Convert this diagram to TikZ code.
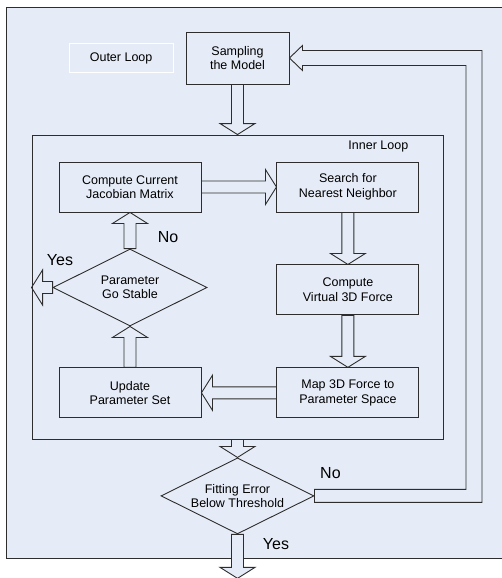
\documentclass[tikz,border=0pt]{standalone}
\usepackage{fontspec}
\setmainfont{Liberation Sans}
\usepackage{tikz}
\usetikzlibrary{shapes.geometric, positioning, calc}
\definecolor{loopbg}{RGB}{230,236,247}
\definecolor{loopline}{RGB}{45,45,45}
\pgfdeclarelayer{back}
\pgfdeclarelayer{conn}
\pgfsetlayers{back,conn,main}
\tikzset{
  box/.style={rectangle, minimum width=142pt, minimum height=50pt, inner sep=0pt, align=center, draw=loopline, line width=0.9pt, font=\fontsize{12.5}{14.5}\selectfont},
  dec/.style={diamond, shape aspect=2, minimum width=153pt, minimum height=76pt, inner sep=0pt, align=center, draw=loopline, line width=0.9pt, font=\fontsize{12.5}{14.5}\selectfont},
  loopbox/.style={rectangle, minimum width=411pt, minimum height=304pt, draw=loopline, line width=0.9pt},
  lbl/.style={rectangle, minimum width=104pt, minimum height=29pt, draw=white, line width=0.9pt, font=\fontsize{12.5}{14.5}\selectfont},
  yn/.style={inner sep=0pt, font=\fontsize{16}{19}\selectfont},
  blk/.style={draw=loopline, fill=loopbg, line width=0.9pt, line join=miter, to path={
    ($(\tikztostart)!6pt!90:(\tikztotarget)$)
    -- ($(\tikztotarget)!11pt!(\tikztostart)!6pt!90:(\tikztotarget)$)
    -- ($(\tikztotarget)!11pt!(\tikztostart)!17.5pt!90:(\tikztotarget)$)
    -- (\tikztotarget)
    -- ($(\tikztotarget)!11pt!(\tikztostart)!17.5pt!-90:(\tikztotarget)$)
    -- ($(\tikztotarget)!11pt!(\tikztostart)!6pt!-90:(\tikztotarget)$)
    -- ($(\tikztostart)!6pt!-90:(\tikztotarget)$) -- cycle}}
}

\begin{document}
\begin{tikzpicture}[x=1pt, y=-1pt]
  \useasboundingbox (0,0) rectangle (502,578);
  \begin{pgfonlayer}{back}
    \fill [white] (0,0) rectangle (502,578);
    \filldraw [fill=loopbg, draw=loopline, line width=0.9pt] (6,7) rectangle (512,558);
  \end{pgfonlayer}
  % outer loop
  \node (samp) [box, minimum width=103pt, minimum height=52pt] at (237.5,58) {Sampling\\the Model};
  \node (outl) [lbl, left=12pt of samp] {Outer Loop};
  % inner loop
  \node (inner) [loopbox] at (237.5,287) {};
  \node (innerlbl) [anchor=north east, inner sep=0pt, font=\fontsize{12.5}{14.5}\selectfont] at ([xshift=-35pt, yshift=-6pt]inner.north east) {Inner Loop};
  \node (jac) [box] at (130,187) {Compute Current\\Jacobian Matrix};
  \node (srch) [box, right=75pt of jac] {Search for\\Nearest Neighbor};
  \node (vf) [box, below=52pt of srch] {Compute\\Virtual 3D Force};
  \node (map) [box, below=52pt of vf] {Map 3D Force to\\Parameter Space};
  \node (upd) [box, left=75pt of map] {Update\\Parameter Set};
  \node (stab) [dec, minimum width=154pt, minimum height=77pt] at (130,287.5) {Parameter\\Go Stable};
  \coordinate (yout) at (inner.west |- stab);
  \node (no1) [yn] at ([xshift=38pt, yshift=11.5pt]stab.north) {No};
  \node (yes1) [yn] at ([xshift=7.5pt, yshift=27.5pt]stab.west) {Yes};
  % check
  \node (fit) [dec, below=18pt of inner] {Fitting Error\\Below Threshold};
  \coordinate [below=44pt of fit] (fin);
  \coordinate (fbx) at (474,300);
  \node (no2) [yn] at ([xshift=16pt, yshift=23pt]fit.east) {No};
  \node (yes2) [yn] at ([xshift=38.5pt, yshift=-10pt]fit.south) {Yes};
  \begin{pgfonlayer}{conn}
    \draw [blk] (samp.south) to (inner.north);
    \draw [blk] (jac.east) to (srch.west);
    \draw [blk] (srch.south) to (vf.north);
    \draw [blk] (vf.south) to (map.north);
    \draw [blk] (map.west) to (upd.east);
    \draw [blk] (upd.north) to (stab.south);
    \draw [blk] (stab.north) to (jac.south);
    \draw [blk] (stab.west) to (yout);
    \draw [blk] (inner.south) to (fit.north);
    \draw [blk] (fit.south) to (fin);
    \filldraw [draw=loopline, fill=loopbg, line width=0.9pt, line join=miter]
      ($(fit.east)+(0,-6.5)$) -- ($(fit.east -| fbx)+(-8,-6.5)$)
      -- ($(samp.east -| fbx)+(-8,7.5)$) -- ($(samp.east)+(13,7.5)$)
      -- ($(samp.east)+(13,12.5)$) -- (samp.east)
      -- ($(samp.east)+(13,-12.5)$) -- ($(samp.east)+(13,-7.5)$)
      -- ($(samp.east -| fbx)+(8,-7.5)$) -- ($(fit.east -| fbx)+(8,6.5)$)
      -- ($(fit.east)+(0,6.5)$) -- cycle;
  \end{pgfonlayer}
\end{tikzpicture}
\end{document}
